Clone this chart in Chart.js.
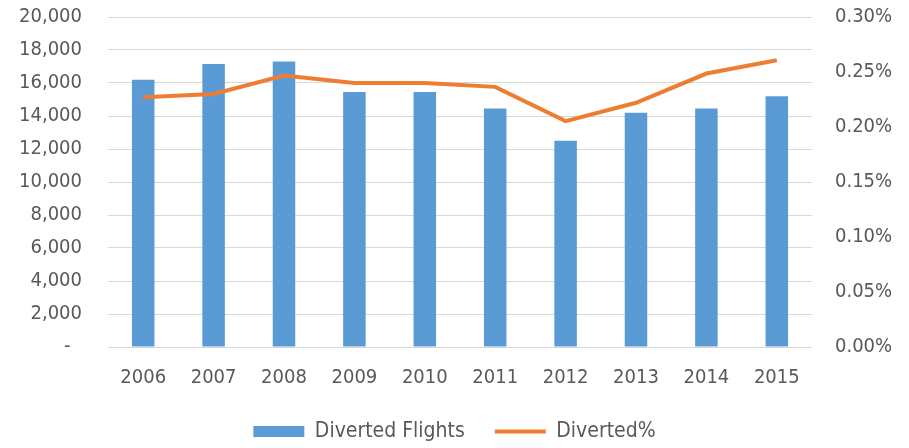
<!DOCTYPE html>
<html><head><meta charset="utf-8">
<script src="https://cdn.jsdelivr.net/npm/chart.js@4/dist/chart.umd.min.js"></script>
<style>html,body{margin:0;padding:0;background:#fff}#wrap{width:909px;height:448px}</style>
</head><body><div id="wrap"><canvas id="c" width="909" height="448"></canvas></div>
<script>
const years = ['2006','2007','2008','2009','2010','2011','2012','2013','2014','2015'];
const divertedFlights = [16200, 17150, 17310, 15460, 15460, 14450, 12500, 14190, 14450, 15190];
const divertedPct = [0.2271, 0.2301, 0.2467, 0.2401, 0.2401, 0.2365, 0.2053, 0.2220, 0.2486, 0.2606];
const leftTicks = [0, 2000, 4000, 6000, 8000, 10000, 12000, 14000, 16000, 18000, 20000];
const rightTicks = [0, 0.05, 0.10, 0.15, 0.20, 0.25, 0.30];

const FONT = "'DejaVu Sans Condensed', 'DejaVu Sans', sans-serif";
const TXT = '#595959';
Chart.defaults.font.family = FONT;
Chart.defaults.color = TXT;

const noPad = s => { s.paddingTop = 0; s.paddingBottom = 0; };

new Chart(document.getElementById('c'), {
  data: {
    labels: years,
    datasets: [
      { type: 'line', label: 'Diverted%', data: divertedPct, yAxisID: 'y1',
        borderColor: '#ED7D31', backgroundColor: '#ED7D31', borderWidth: 4,
        pointRadius: 0, pointStyle: 'line', tension: 0, order: 0 },
      { type: 'bar', label: 'Diverted Flights', data: divertedFlights, yAxisID: 'y',
        backgroundColor: '#5B9BD5', borderWidth: 0, pointStyle: 'rect',
        categoryPercentage: 1, barPercentage: 0.32, order: 1 }
    ]
  },
  options: {
    responsive: false, animation: false,
    layout: { padding: { top: 17, left: 0, right: 0, bottom: -4 } },
    plugins: {
      tooltip: { enabled: false },
      legend: { position: 'bottom', reverse: true,
        labels: { usePointStyle: true, pointStyleWidth: 51, boxHeight: 11, padding: 30,
          font: { size: 21, family: FONT }, color: TXT } }
    },
    scales: {
      x: { grid: { display: false }, border: { display: false },
        ticks: { padding: 11, font: { size: 20 }, color: TXT },
        afterFit: s => { s.height = 44; } },
      y: { position: 'left', min: 0, max: 20000,
        afterBuildTicks: s => { s.ticks = leftTicks.map(v => ({ value: v })); },
        grid: { color: '#D9D9D9', lineWidth: 1, drawTicks: false },
        border: { display: false },
        ticks: { padding: 26, font: { size: 20 }, color: TXT,
          callback: v => v === 0 ? '-\u2007' : v.toLocaleString('en-US') },
        afterFit: s => { s.width = 108; noPad(s); } },
      y1: { position: 'right', min: 0, max: 0.30,
        afterBuildTicks: s => { s.ticks = rightTicks.map(v => ({ value: v })); },
        grid: { display: false, drawTicks: false }, border: { display: false },
        ticks: { padding: 23, font: { size: 20 }, color: TXT,
          callback: v => v.toFixed(2) + '%' },
        afterFit: s => { s.width = 97; noPad(s); } }
    }
  }
});
</script></body></html>
